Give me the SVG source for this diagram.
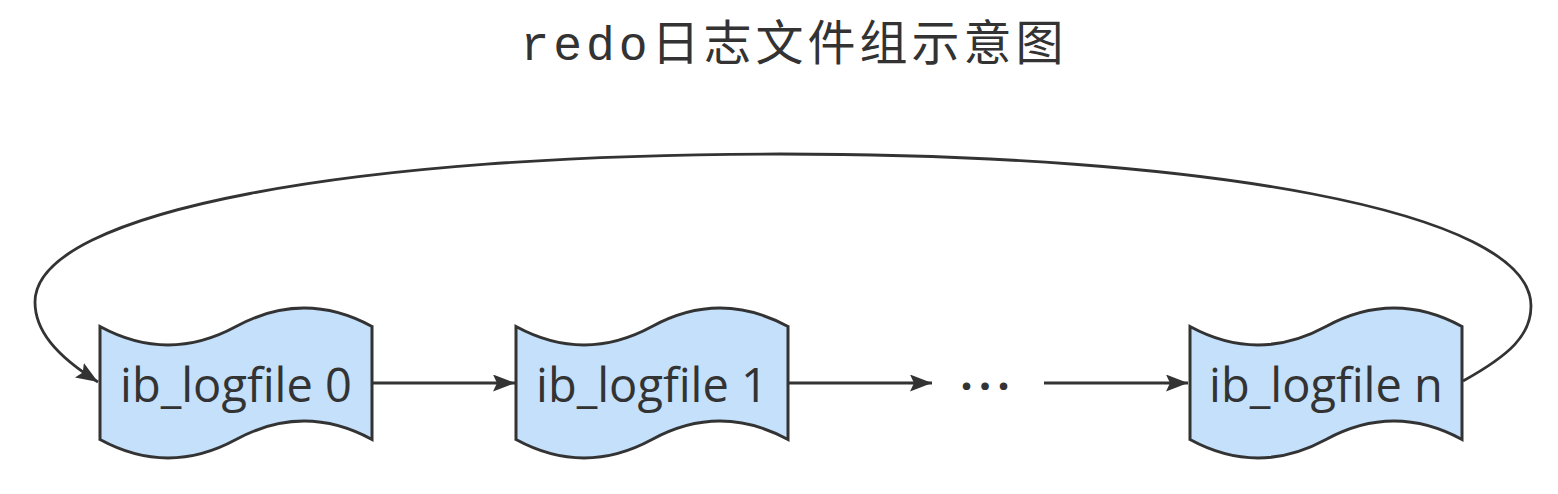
<svg xmlns="http://www.w3.org/2000/svg" width="1558" height="494" viewBox="0 0 1558 494">
  <style>
    .tape { fill: #c4e0fb; stroke: #333333; stroke-width: 3; stroke-linejoin: miter; }
    .label { font-family: "Open Sans", "Liberation Sans", sans-serif; font-size: 47px; fill: #333333; text-anchor: middle; }
    .dots { font-family: "Open Sans", "Liberation Sans", sans-serif; font-size: 44px; font-weight: bold; fill: #333333; text-anchor: middle; letter-spacing: 6px; }
    .edge { fill: none; stroke: #333333; stroke-width: 2.8; marker-end: url(#arrow); }
    .title { font-family: "Liberation Mono", "Noto Sans CJK SC", monospace; font-size: 48px; fill: #333333; text-anchor: middle; letter-spacing: 4px; }
  </style>
  <defs>
    <marker id="arrow" markerUnits="userSpaceOnUse" markerWidth="24" markerHeight="18" refX="22" refY="8.5" orient="auto">
      <path d="M0,0 L22,8.5 L0,17 L4,8.5 Z" fill="#333333"/>
    </marker>
    <path id="tapeShape" d="M0,20.5 Q68,57.4 136,20.5 Q204,-16.4 272,20.5 L272,133.5 Q204,96.6 136,133.5 Q68,170.4 0,133.5 Z"/>
  </defs>
  <rect width="1558" height="494" fill="#ffffff"/>
  <text id="title" class="title" x="794" y="60">redo日志文件组示意图</text>

  <g id="connectors">
    <path class="edge" d="M372,383 L515,383"/>
    <path class="edge" d="M788,383 L932,383"/>
    <path class="edge" d="M1044,383 L1188,383"/>
    <path class="edge" d="M1463,381 C1510,355 1531,335 1531,306 C1531,210 1200,154 780,154 C360,154 35,210 35,302 C35,330 55,355 98,382"/>
  </g>

  <g id="node0" transform="translate(100,306)">
    <use href="#tapeShape" class="tape"/>
    <text class="label" x="136" y="96">ib_logfile 0</text>
  </g>
  <g id="node1" transform="translate(516,306)">
    <use href="#tapeShape" class="tape"/>
    <text class="label" x="136" y="96">ib_logfile 1</text>
  </g>
  <g id="ellipsis">
    <text class="dots" x="988" y="390">...</text>
  </g>
  <g id="nodeN" transform="translate(1190,306)">
    <use href="#tapeShape" class="tape"/>
    <text class="label" x="136" y="96">ib_logfile n</text>
  </g>
</svg>
